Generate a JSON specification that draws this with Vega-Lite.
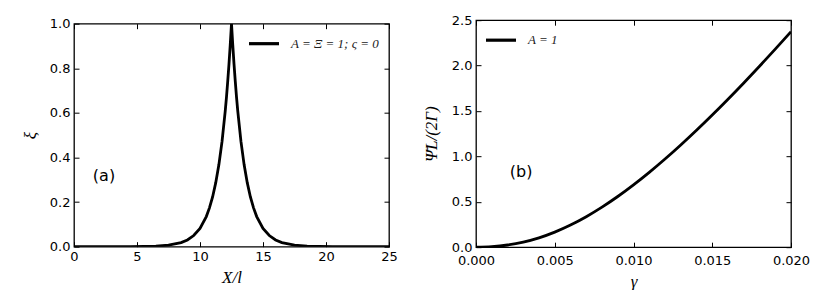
{
  "$schema": "https://vega.github.io/schema/vega-lite/v6.json",
  "padding": {"left": 20, "top": 13, "right": 0, "bottom": 0},
  "background": "white",
  "spacing": 23,
  "center": true,
  "config": {
    "view": {"stroke": "black", "strokeWidth": 1.3},
    "axis": {
      "domain": false,
      "grid": false,
      "labelFlush": false,
      "tickSize": -5,
      "tickColor": "black",
      "tickWidth": 1,
      "labelFont": "DejaVu Sans",
      "labelFontSize": 13,
      "labelColor": "black",
      "labelPadding": 9,
      "titleFont": "Liberation Serif",
      "titleFontStyle": "italic",
      "titleFontWeight": "normal",
      "titleFontSize": 17,
      "titleColor": "black"
    },
    "legend": {
      "orient": "none",
      "title": null,
      "symbolType": "stroke",
      "symbolSize": 900,
      "symbolStrokeWidth": 3.2,
      "symbolStrokeColor": "black",
      "labelFont": "Liberation Serif",
      "labelFontStyle": "italic",
      "labelFontSize": 13,
      "labelColor": "#222",
      "labelOffset": 10,
      "padding": 0
    }
  },
  "resolve": {"scale": {"color": "independent"}, "legend": {"color": "independent"}},
  "hconcat": [
    {
      "width": 315,
      "height": 223,
      "layer": [
        {
          "data": {"values": [
            {"x": 0, "v": 0}, {"x": 2.5, "v": 0.00005}, {"x": 4.5, "v": 0.0003}, {"x": 6.5, "v": 0.0025},
            {"x": 7.5, "v": 0.0067}, {"x": 8.5, "v": 0.018}, {"x": 9.0, "v": 0.030}, {"x": 9.5, "v": 0.050},
            {"x": 10.0, "v": 0.082}, {"x": 10.5, "v": 0.135}, {"x": 10.75, "v": 0.174}, {"x": 11.0, "v": 0.223},
            {"x": 11.25, "v": 0.287}, {"x": 11.5, "v": 0.368}, {"x": 11.75, "v": 0.472}, {"x": 12.0, "v": 0.607},
            {"x": 12.1, "v": 0.670}, {"x": 12.2, "v": 0.741}, {"x": 12.3, "v": 0.819}, {"x": 12.4, "v": 0.905},
            {"x": 12.5, "v": 1.0},
            {"x": 12.6, "v": 0.905}, {"x": 12.7, "v": 0.819}, {"x": 12.8, "v": 0.741}, {"x": 12.9, "v": 0.670},
            {"x": 13.0, "v": 0.607}, {"x": 13.25, "v": 0.472}, {"x": 13.5, "v": 0.368}, {"x": 13.75, "v": 0.287},
            {"x": 14.0, "v": 0.223}, {"x": 14.25, "v": 0.174}, {"x": 14.5, "v": 0.135}, {"x": 15.0, "v": 0.082},
            {"x": 15.5, "v": 0.050}, {"x": 16.0, "v": 0.030}, {"x": 16.5, "v": 0.018}, {"x": 17.5, "v": 0.0067},
            {"x": 18.5, "v": 0.0025}, {"x": 20.5, "v": 0.0003}, {"x": 22.5, "v": 0.00005}, {"x": 25, "v": 0}
          ]},
          "mark": {"type": "line", "strokeWidth": 2.8, "clip": true},
          "encoding": {
            "x": {"field": "x", "type": "quantitative", "scale": {"domain": [0, 25], "nice": false, "padding": 0, "zero": false},
                  "axis": {"values": [0, 5, 10, 15, 20, 25], "format": "d", "title": "X/l", "titlePadding": 6}},
            "y": {"field": "v", "type": "quantitative", "scale": {"domain": [0, 1], "nice": false, "padding": 0},
                  "axis": {"values": [0, 0.2, 0.4, 0.6, 0.8, 1.0], "format": ".1f", "title": "ξ", "titlePadding": 10}},
            "color": {"datum": "A = Ξ = 1; ς = 0", "type": "nominal", "scale": {"range": ["black"]},
                      "legend": {"legendX": 173, "legendY": 3}}
          }
        },
        {
          "data": {"values": [{"x": 2.38, "v": 0.318, "t": "(a)"}]},
          "mark": {"type": "text", "font": "DejaVu Sans", "fontSize": 16, "color": "black"},
          "encoding": {
            "x": {"field": "x", "type": "quantitative", "axis": null},
            "y": {"field": "v", "type": "quantitative", "axis": null},
            "text": {"field": "t"}
          }
        },
        {
          "data": {"values": [{"x": 0, "v": 0}, {"x": 25, "v": 1}]},
          "mark": {"type": "line", "opacity": 0},
          "encoding": {
            "x": {"field": "x", "type": "quantitative",
                  "axis": {"orient": "top", "values": [0, 5, 10, 15, 20, 25], "labels": false, "title": null}},
            "y": {"field": "v", "type": "quantitative",
                  "axis": {"orient": "right", "values": [0, 0.2, 0.4, 0.6, 0.8, 1.0], "labels": false, "title": null}}
          }
        }
      ],
      "resolve": {"axis": {"x": "independent", "y": "independent"}}
    },
    {
      "width": 315,
      "height": 227,
      "layer": [
        {
          "data": {"values": [
            {"g": 0, "v": 0}, {"g": 0.001, "v": 0.006}, {"g": 0.002, "v": 0.024}, {"g": 0.003, "v": 0.056},
            {"g": 0.004, "v": 0.103}, {"g": 0.005, "v": 0.166}, {"g": 0.006, "v": 0.244}, {"g": 0.007, "v": 0.336},
            {"g": 0.008, "v": 0.441}, {"g": 0.009, "v": 0.558}, {"g": 0.010, "v": 0.686}, {"g": 0.011, "v": 0.824},
            {"g": 0.012, "v": 0.971}, {"g": 0.013, "v": 1.126}, {"g": 0.014, "v": 1.288}, {"g": 0.015, "v": 1.456},
            {"g": 0.016, "v": 1.630}, {"g": 0.017, "v": 1.809}, {"g": 0.018, "v": 1.993}, {"g": 0.019, "v": 2.181},
            {"g": 0.020, "v": 2.373}
          ]},
          "mark": {"type": "line", "strokeWidth": 2.8, "interpolate": "monotone", "clip": true},
          "encoding": {
            "x": {"field": "g", "type": "quantitative", "scale": {"domain": [0, 0.02], "nice": false, "padding": 0},
                  "axis": {"values": [0, 0.005, 0.01, 0.015, 0.02], "format": ".3f", "title": "γ", "titlePadding": 6, "labelPadding": 12}},
            "y": {"field": "v", "type": "quantitative", "scale": {"domain": [0, 2.5], "nice": false, "padding": 0},
                  "axis": {"values": [0, 0.5, 1.0, 1.5, 2.0, 2.5], "format": ".1f", "title": "Ψ̄L/(2Γ)", "titlePadding": 11}},
            "color": {"datum": "A = 1", "type": "nominal", "scale": {"range": ["black"]},
                      "legend": {"legendX": 8, "legendY": 3}}
          }
        },
        {
          "data": {"values": [{"g": 0.00286, "v": 0.826, "t": "(b)"}]},
          "mark": {"type": "text", "font": "DejaVu Sans", "fontSize": 16, "color": "black"},
          "encoding": {
            "x": {"field": "g", "type": "quantitative", "axis": null},
            "y": {"field": "v", "type": "quantitative", "axis": null},
            "text": {"field": "t"}
          }
        },
        {
          "data": {"values": [{"g": 0, "v": 0}, {"g": 0.02, "v": 2.5}]},
          "mark": {"type": "line", "opacity": 0},
          "encoding": {
            "x": {"field": "g", "type": "quantitative",
                  "axis": {"orient": "top", "values": [0, 0.005, 0.01, 0.015, 0.02], "labels": false, "title": null}},
            "y": {"field": "v", "type": "quantitative",
                  "axis": {"orient": "right", "values": [0, 0.5, 1.0, 1.5, 2.0, 2.5], "labels": false, "title": null}}
          }
        }
      ],
      "resolve": {"axis": {"x": "independent", "y": "independent"}}
    }
  ]
}
